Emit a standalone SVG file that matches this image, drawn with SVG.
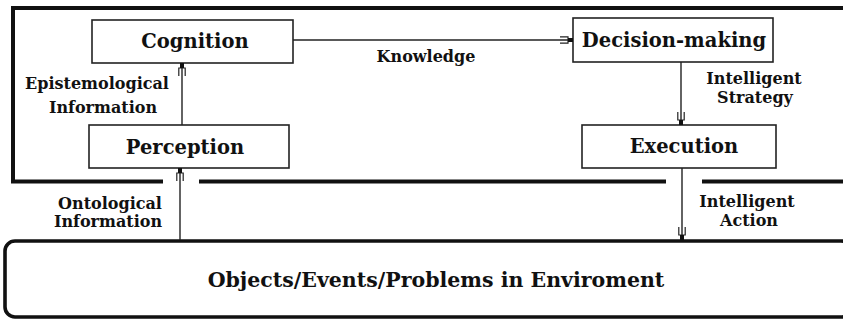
<svg xmlns="http://www.w3.org/2000/svg" width="843" height="320" viewBox="0 0 843 320">
<defs>
<style>
.box{fill:#fff;stroke:#222;stroke-width:1.6}
.t{font-family:"DejaVu Serif","Liberation Serif",serif;font-weight:bold;fill:#111;text-anchor:middle}
.big{font-size:19.5px}
.lbl{font-size:16px}
.frame{fill:none;stroke:#111;stroke-width:4}
.conn{fill:none;stroke:#222;stroke-width:1.4}
</style>
<marker id="ah" markerUnits="userSpaceOnUse" viewBox="-14 -6 16 12" refX="0" refY="0" markerWidth="16" markerHeight="12" orient="auto">
<path d="M -13 -3.2 H -5 V 3.2 H -13" fill="none" stroke="#222" stroke-width="1.2"/>
<rect x="-5" y="-2" width="5" height="4" fill="#111"/>
</marker>
</defs>
<g id="frame">
<path class="frame" d="M 843 8 H 13 V 181.5 H 163 M 199 181.5 H 666 M 702 181.5 H 843"/>
</g>
<g id="objects">
<rect x="5" y="241" width="846" height="76" rx="10" ry="10" fill="#fff" stroke="#111" stroke-width="3.6"/>
<text class="t" style="font-size:20.5px" x="436" y="287">Objects/Events/Problems in Enviroment</text>
</g>
<g id="cognition">
<rect class="box" x="92" y="20" width="201" height="43"/>
<text class="t big" x="195" y="48">Cognition</text>
</g>
<g id="perception">
<rect class="box" x="89" y="125" width="200" height="43"/>
<text class="t big" x="185" y="154">Perception</text>
</g>
<g id="decision">
<rect class="box" x="573" y="18" width="200" height="44"/>
<text class="t big" x="674" y="47">Decision-making</text>
</g>
<g id="execution">
<rect class="box" x="582" y="125" width="194" height="43"/>
<text class="t big" x="684" y="153">Execution</text>
</g>
<g id="connectors">
<path class="conn" d="M 293 40 H 573" marker-end="url(#ah)"/>
<path class="conn" d="M 182 125 V 63" marker-end="url(#ah)"/>
<path class="conn" d="M 180 240 V 168" marker-end="url(#ah)"/>
<path class="conn" d="M 681 62 V 125" marker-end="url(#ah)"/>
<path class="conn" d="M 682 168 V 240" marker-end="url(#ah)"/>
</g>
<g id="labels">
<text class="t lbl" x="426" y="62">Knowledge</text>
<text class="t lbl" x="97" y="89">Epistemological</text>
<text class="t lbl" x="103" y="113">Information</text>
<text class="t lbl" x="754" y="84">Intelligent</text>
<text class="t lbl" x="755" y="103">Strategy</text>
<text class="t lbl" x="110" y="209">Ontological</text>
<text class="t lbl" x="108" y="227">Information</text>
<text class="t lbl" x="747" y="207">Intelligent</text>
<text class="t lbl" x="749" y="226">Action</text>
</g>
</svg>
